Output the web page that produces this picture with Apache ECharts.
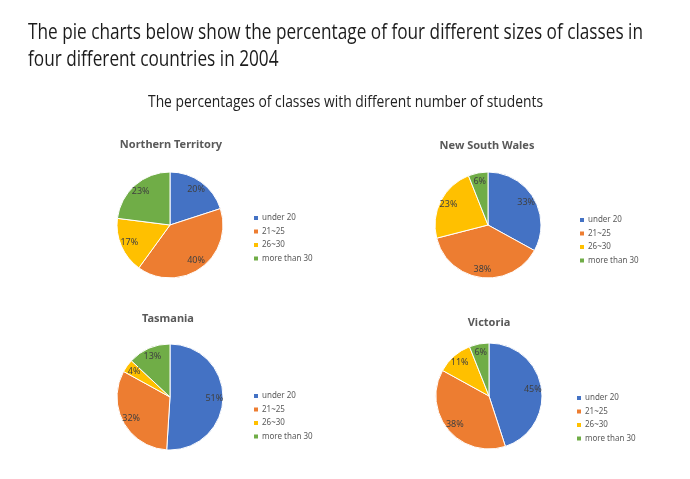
<!DOCTYPE html>
<html>
<head>
<meta charset="utf-8">
<script src="https://cdn.jsdelivr.net/npm/echarts@6/dist/echarts.min.js"></script>
<style>
html,body{margin:0;padding:0;background:#fff;}
#main{width:690px;height:479px;}
</style>
</head>
<body>
<div id="main"></div>
<script>
// ---- Data ----
var categories = ['under 20', '21~25', '26~30', 'more than 30'];
var regions = ['Northern Territory', 'New South Wales', 'Tasmania', 'Victoria'];
var northernTerritory = [20, 40, 17, 23];
var newSouthWales = [33, 38, 23, 6];
var tasmania = [51, 32, 4, 13];
var victoria = [45, 38, 11, 6];
var headingLines = [
  'The pie charts below show the percentage of four different sizes of classes in',
  'four different countries in 2004'
];
var subHeading = 'The percentages of classes with different number of students';

// ---- Styling / layout ----
var colors = ['#4472C4', '#ED7D31', '#FFC000', '#70AD47'];
var values = [northernTerritory, newSouthWales, tasmania, victoria];
var layout = [
  {c: [170, 225], title: [171, 146], legend: [252, 214]},
  {c: [488, 225], title: [487, 147], legend: [578, 216]},
  {c: [170, 397], title: [168, 320], legend: [252, 392]},
  {c: [489, 396], title: [489, 324], legend: [575, 394]}
];
var R = 53;

function measure(text, font) {
  var cv = document.createElement('canvas').getContext('2d');
  cv.font = font;
  return cv.measureText(text).width;
}
var hFont = '22px "Open Sans"';
var sFont = '16px "Open Sans"';
var hScale = (643 - 28) / measure(headingLines[0], hFont);
var sScale = (543 - 148) / measure(subHeading, sFont);

var chart = echarts.init(document.getElementById('main'), null, {renderer: 'canvas'});

var series = [], titles = [], legends = [];
regions.forEach(function (name, i) {
  var L = layout[i];
  var data = categories.map(function (cat, k) {
    return {name: cat, value: values[i][k]};
  });
  series.push({
    type: 'pie',
    name: name,
    center: L.c,
    radius: [0, R],
    startAngle: 90,
    clockwise: true,
    color: colors,
    label: {show: false},
    labelLine: {show: false},
    itemStyle: {borderColor: '#ffffff', borderWidth: 1},
    emphasis: {disabled: true},
    animation: false,
    data: data
  });
  series.push({
    type: 'pie',
    name: name + ' labels',
    center: L.c,
    radius: [R * 0.56, R],
    startAngle: 90,
    clockwise: true,
    silent: true,
    legendHoverLink: false,
    itemStyle: {color: 'rgba(0,0,0,0)', borderWidth: 0},
    label: {
      show: true,
      position: 'inside',
      formatter: '{c}%',
      color: '#404040',
      fontSize: 9,
      fontFamily: '"Noto Sans"'
    },
    labelLine: {show: false},
    emphasis: {disabled: true},
    animation: false,
    data: data
  });
  titles.push({
    text: name,
    left: L.title[0],
    top: L.title[1] - 7,
    padding: 0,
    textAlign: 'center',
    textStyle: {fontSize: 11, fontWeight: 'bold', color: '#595959', fontFamily: '"Noto Sans"'}
  });
  legends.push({
    orient: 'vertical',
    left: L.legend[0],
    top: L.legend[1],
    padding: 0,
    icon: 'rect',
    itemWidth: 6,
    itemHeight: 6,
    itemGap: 5.5,
    selectedMode: false,
    data: categories,
    textStyle: {fontSize: 8, lineHeight: 8, color: '#595959', fontFamily: '"Noto Sans"', padding: [0, 0, 0, -2]}
  });
});

var option = {
  backgroundColor: '#ffffff',
  animation: false,
  title: titles,
  legend: legends,
  series: series,
  graphic: [
    {type: 'text', x: 28, y: 33, scaleX: hScale,
      style: {text: headingLines[0], font: hFont, fill: '#1c1c1c', align: 'left', verticalAlign: 'middle'}},
    {type: 'text', x: 28, y: 60, scaleX: hScale,
      style: {text: headingLines[1], font: hFont, fill: '#1c1c1c', align: 'left', verticalAlign: 'middle'}},
    {type: 'text', x: 345.5, y: 102, scaleX: sScale,
      style: {text: subHeading, font: sFont, fill: '#222222', align: 'center', verticalAlign: 'middle'}}
  ]
};
chart.setOption(option);
</script>
</body>
</html>
